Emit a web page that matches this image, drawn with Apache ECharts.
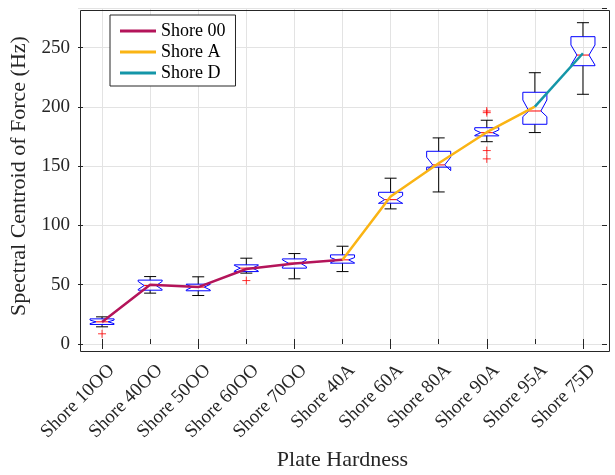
<!DOCTYPE html>
<html>
<head>
<meta charset="utf-8">
<script src="https://cdn.jsdelivr.net/npm/echarts@6/dist/echarts.min.js"></script>
<style>html,body{margin:0;padding:0;background:#fff;}#c{width:615px;height:475px;}</style>
</head>
<body>
<div id="c"></div>
<script>
// ---- data ----
const categories = ['Shore 10OO','Shore 40OO','Shore 50OO','Shore 60OO','Shore 70OO','Shore 40A','Shore 60A','Shore 80A','Shore 90A','Shore 95A','Shore 75D'];
// box stats: lower whisker, Q1, median, Q3, upper whisker, notch low, notch high
const whiskerLow  = [14.5, 42.9, 40.9, 59.8, 55.0, 61.1, 114.0, 128.3, 170.7, 178.4, 210.7];
const q1          = [16.5, 45.4, 44.9, 61.1, 64.0, 68.2, 118.8, 149.2, 175.6, 185.4, 234.8];
const medians     = [18.7, 49.3, 48.0, 64.0, 68.2, 71.0, 121.8, 151.1, 178.3, 196.6, 243.8];
const q3          = [21.2, 53.9, 50.5, 66.8, 71.8, 75.2, 128.0, 162.6, 182.5, 212.4, 259.3];
const whiskerHigh = [22.9, 56.9, 56.7, 72.4, 76.3, 82.5, 139.9, 173.9, 188.8, 228.9, 271.1];
const notchLow    = [17.2, 46.0, 45.6, 61.6, 65.2, 68.5, 118.6, 146.3, 176.0, 191.8, 235.4];
const notchHigh   = [20.2, 52.8, 50.3, 66.4, 71.0, 72.9, 125.2, 157.6, 180.6, 205.9, 252.3];
const outlierCat  = [0, 3, 8, 8, 8, 8];
const outlierVal  = [8.6, 53.5, 196.6, 195.2, 163.2, 156.2];
// mean lines
const shore00 = [18.5, 49.9, 48.0, 63.3, 68.0, 71.0, null, null, null, null, null];
const shoreA  = [null, null, null, null, null, 71.0, 124.4, 152.5, 178.7, 200.3, null];
const shoreD  = [null, null, null, null, null, null, null, null, null, 200.3, 245.3];
const yTicks = [0, 50, 100, 150, 200, 250];

const boxData = categories.map((c, i) => [i, whiskerLow[i], q1[i], medians[i], q3[i], whiskerHigh[i], notchLow[i], notchHigh[i]]);
const outlierData = outlierCat.map((c, i) => [c, outlierVal[i]]);

const FONT = '"Liberation Serif", "DejaVu Serif", serif';
const TXT = '#262626';

const chart = echarts.init(document.getElementById('c'), null, {renderer: 'canvas'});

function renderBox(params, api) {
  const x = api.value(0);
  const band = api.size([1, 0])[0];
  const w = band * 0.25;
  const cw = band * 0.125;
  const P = v => api.coord([x, v]);
  const cx = P(api.value(3))[0];
  const yMin = P(api.value(1))[1], yQ1 = P(api.value(2))[1], yMed = P(api.value(3))[1];
  const yQ3 = P(api.value(4))[1], yMax = P(api.value(5))[1];
  const yNl = P(api.value(6))[1], yNh = P(api.value(7))[1];
  const pts = [
    [cx - w, yQ1], [cx - w, yNl], [cx - w / 2, yMed], [cx - w, yNh], [cx - w, yQ3],
    [cx + w, yQ3], [cx + w, yNh], [cx + w / 2, yMed], [cx + w, yNl], [cx + w, yQ1]
  ];
  const black = {stroke: '#000', lineWidth: 1, fill: null};
  return {
    type: 'group',
    children: [
      {type: 'line', shape: {x1: cx, y1: yQ3, x2: cx, y2: yMax}, style: black},
      {type: 'line', shape: {x1: cx, y1: yQ1, x2: cx, y2: yMin}, style: black},
      {type: 'line', shape: {x1: cx - cw, y1: yMax, x2: cx + cw, y2: yMax}, style: black},
      {type: 'line', shape: {x1: cx - cw, y1: yMin, x2: cx + cw, y2: yMin}, style: black},
      {type: 'polygon', shape: {points: pts}, style: {stroke: '#0000FF', lineWidth: 1, fill: null}},
      {type: 'line', shape: {x1: cx - w / 2, y1: yMed, x2: cx + w / 2, y2: yMed}, style: {stroke: '#FF0000', lineWidth: 1}}
    ]
  };
}

const option = {
  animation: false,
  backgroundColor: '#fff',
  grid: {left: 78, right: 8, top: 8, bottom: 131, containLabel: false, outerBoundsMode: 'none'},
  legend: {
    left: 110, top: 15, orient: 'vertical',
    backgroundColor: '#fff', borderColor: TXT, borderWidth: 1,
    padding: [7, 10, 4, 10], itemGap: 3,
    itemWidth: 36, itemHeight: 3, icon: 'rect',
    textStyle: {fontFamily: FONT, fontSize: 18, color: '#000'},
    data: ['Shore 00', 'Shore A', 'Shore D']
  },
  xAxis: [{
    type: 'category', data: categories, position: 'bottom', offset: 5,
    boundaryGap: true,
    axisLine: {show: false},
    axisTick: {show: true, inside: true, length: 5, alignWithLabel: true, lineStyle: {color: TXT}},
    axisLabel: {rotate: 45, margin: 9, verticalAlign: 'top', padding: [4, 0, 0, 0],
      fontFamily: FONT, fontSize: 19, color: TXT, interval: 0},
    splitLine: {show: true, alignWithLabel: true, lineStyle: {color: '#E3E3E3', width: 1}},
    name: 'Plate Hardness', nameLocation: 'middle', nameGap: 100,
    nameTextStyle: {fontFamily: FONT, fontSize: 22, color: TXT}
  }, {
    type: 'category', data: categories, position: 'top',
    axisLine: {show: false},
    axisTick: {show: true, inside: true, length: 5, alignWithLabel: true, lineStyle: {color: TXT}},
    axisLabel: {show: false}, splitLine: {show: false}
  }],
  yAxis: [{
    type: 'value', min: 0, max: 283.5, interval: 50, position: 'left',
    axisLine: {show: false},
    axisTick: {show: true, inside: true, length: 5, lineStyle: {color: TXT}},
    axisLabel: {margin: 8, fontFamily: FONT, fontSize: 19, color: TXT, showMaxLabel: false,
      formatter: v => (yTicks.indexOf(v) >= 0 ? String(v) : '')},
    splitLine: {show: true, lineStyle: {color: '#E3E3E3', width: 1}},
    name: 'Spectral Centroid of Force (Hz)', nameLocation: 'middle', nameGap: 36,
    nameTextStyle: {fontFamily: FONT, fontSize: 22, color: TXT}
  }, {
    type: 'value', min: 0, max: 283.5, interval: 50, position: 'right',
    axisLine: {show: false},
    axisTick: {show: true, inside: true, length: 5, lineStyle: {color: TXT}},
    axisLabel: {show: false}, splitLine: {show: false}
  }],
  graphic: [{
    type: 'rect', left: 78, top: 8, z: 100, silent: true,
    shape: {width: 529, height: 341},
    style: {fill: null, stroke: TXT, lineWidth: 1}
  }],
  series: [
    {type: 'custom', name: 'boxes', renderItem: renderBox, data: boxData, z: 2,
      encode: {x: 0, y: [1, 2, 3, 4, 5]}},
    {type: 'scatter', name: 'outliers', data: outlierData, z: 3,
      symbol: 'path://M5,0L5,10M0,5L10,5', symbolSize: 8,
      itemStyle: {color: 'none', borderColor: '#FF0000', borderWidth: 1}},
    {type: 'line', name: 'Shore 00', data: shore00, z: 4, symbol: 'none', connectNulls: false,
      lineStyle: {color: '#B4145A', width: 2.5}, itemStyle: {color: '#B4145A'}},
    {type: 'line', name: 'Shore A', data: shoreA, z: 4, symbol: 'none', connectNulls: false,
      lineStyle: {color: '#FAB414', width: 2.5}, itemStyle: {color: '#FAB414'}},
    {type: 'line', name: 'Shore D', data: shoreD, z: 4, symbol: 'none', connectNulls: false,
      lineStyle: {color: '#1496A8', width: 2.5}, itemStyle: {color: '#1496A8'}}
  ]
};
chart.setOption(option);
</script>
</body>
</html>
